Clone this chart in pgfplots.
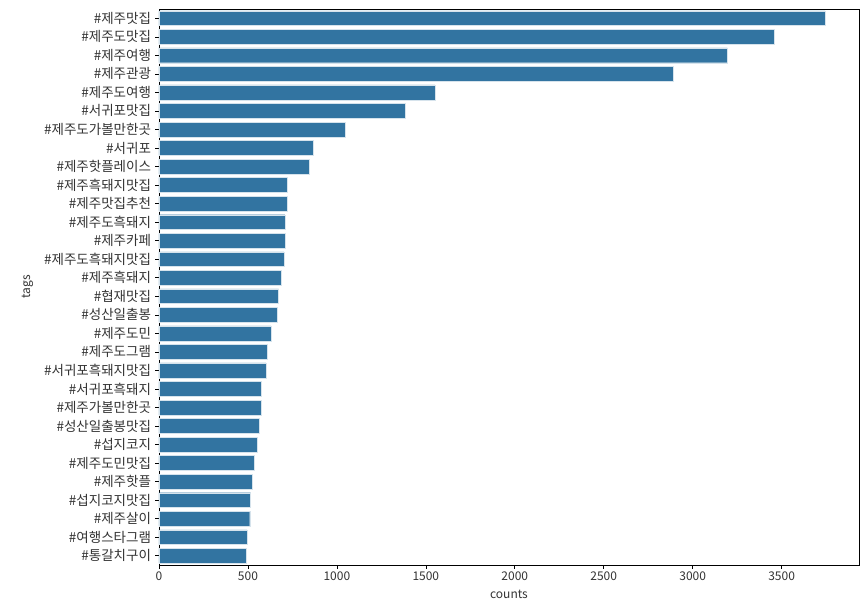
\documentclass[border=0pt]{standalone}
\usepackage{fontspec}
\setmainfont{Noto Sans CJK KR}
\usepackage{pgfplots}
\pgfplotsset{compat=1.18}
\definecolor{sbblue}{HTML}{3274A1}
\begin{document}
\begin{tikzpicture}[x=1pt,y=1pt]
\useasboundingbox (0,0) rectangle (862,605);
\begin{axis}[
  at={(159pt,40pt)}, anchor=south west,
  width=700pt, height=556pt, scale only axis,
  xbar, bar width=0.8,
  xmin=0, xmax=3935,
  ymin=-0.5, ymax=29.5, y dir=reverse,
  ytick={0,...,29},
  yticklabels={\#제주맛집,\#제주도맛집,\#제주여행,\#제주관광,\#제주도여행,\#서귀포맛집,\#제주도가볼만한곳,\#서귀포,\#제주핫플레이스,\#제주흑돼지맛집,\#제주맛집추천,\#제주도흑돼지,\#제주카페,\#제주도흑돼지맛집,\#제주흑돼지,\#협재맛집,\#성산일출봉,\#제주도민,\#제주도그램,\#서귀포흑돼지맛집,\#서귀포흑돼지,\#제주가볼만한곳,\#성산일출봉맛집,\#섭지코지,\#제주도민맛집,\#제주핫플,\#섭지코지맛집,\#제주살이,\#여행스타그램,\#통갈치구이},
  xtick={0,500,...,3500},
  /pgf/number format/assume math mode=true,
  /pgf/number format/set thousands separator={},
  tick align=outside, tick pos=left,
  major tick length=3.5pt,
  every tick/.style={black, line width=0.6pt},
  axis line style={black, line width=0.9pt},
  yticklabel style={font=\fontsize{13.5}{15}\selectfont, text=black!80, xshift=-1pt},
  xticklabel style={font=\fontsize{12}{14}\selectfont, text=black!80, yshift=0pt},
  label style={font=\fontsize{12}{14}\selectfont, text=black!80},
  xlabel={counts}, ylabel={tags},
  xlabel style={yshift=-2pt},
  ylabel style={yshift=4pt},
]
\addplot[fill=sbblue, draw=white!80!sbblue, line width=0.4pt] coordinates {
(3745,0) (3459,1) (3195,2) (2890,3) (1551,4) (1385,5) (1045,6) (865,7) (845,8) (723,9)
(723,10) (708,11) (708,12) (702,13) (687,14) (672,15) (667,16) (631,17) (607,18) (601,19)
(577,20) (577,21) (562,22) (551,23) (536,24) (524,25) (515,26) (510,27) (495,28) (490,29)
};
\end{axis}
\end{tikzpicture}
\end{document}
